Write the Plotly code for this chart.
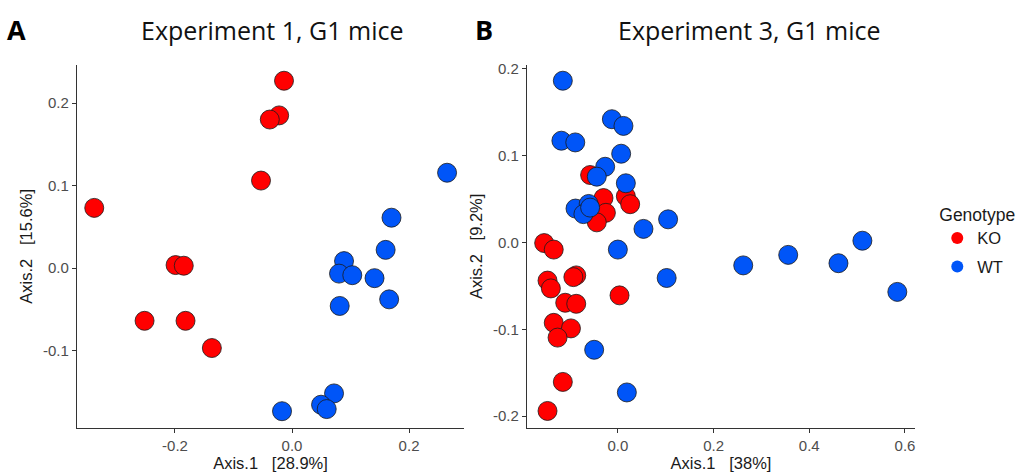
import plotly.graph_objects as go

# Experiment 1 (panel A)
a_ko_x = [-0.338, -0.0137, -0.022, -0.038, -0.053, -0.199, -0.185, -0.252, -0.182, -0.137]
a_ko_y = [0.0729, 0.227, 0.185, 0.180, 0.106, 0.0036, 0.0028, -0.064, -0.064, -0.097]
a_wt_x = [0.265, 0.170, 0.160, 0.0889, 0.0803, 0.103, 0.141, 0.166, 0.0815, 0.0718, 0.0496, 0.0593, -0.0171]
a_wt_y = [0.1155, 0.061, 0.022, 0.0084, -0.0068, -0.0087, -0.0123, -0.038, -0.046, -0.152, -0.1657, -0.171, -0.1736]

# Experiment 3 (panel B)
b_ko_x = [-0.058, -0.030, 0.0167, 0.0257, -0.025, -0.044, -0.154, -0.134, -0.147, -0.140,
          -0.087, -0.093, -0.110, -0.087, 0.0035, -0.134, -0.098, -0.126, -0.115, -0.147]
b_ko_y = [0.0775, 0.051, 0.053, 0.0439, 0.034, 0.023, -0.0008, -0.0083, -0.044, -0.053,
          -0.038, -0.040, -0.0695, -0.0707, -0.061, -0.0926, -0.099, -0.1096, -0.1606, -0.194]
b_wt_x = [-0.115, -0.0125, 0.0117, -0.118, -0.089, 0.0069, -0.0265, -0.044, 0.0167, -0.0885,
          -0.061, -0.072, -0.058, 0.0535, 0.105, 0.511, 0.0, 0.102, 0.262, 0.356, 0.461, 0.584,
          -0.0495, 0.0188]
b_wt_y = [0.186, 0.1417, 0.134, 0.117, 0.115, 0.102, 0.087, 0.0756, 0.068, 0.0389,
          0.0442, 0.0325, 0.040, 0.0155, 0.0265, 0.0019, -0.0083, -0.041, -0.0265, -0.0144, -0.024, -0.057,
          -0.1236, -0.1727]

genotypes = ["KO", "WT"]
KO_COLOR = "#FF0000"
WT_COLOR = "#0055F8"

def marker(color):
    return dict(size=19, color=color, line=dict(color="#1a1a1a", width=0.8))

fig = go.Figure()
fig.add_trace(go.Scatter(x=a_ko_x, y=a_ko_y, mode="markers", name="KO", showlegend=False,
                         marker=marker(KO_COLOR), xaxis="x", yaxis="y"))
fig.add_trace(go.Scatter(x=a_wt_x, y=a_wt_y, mode="markers", name="WT", showlegend=False,
                         marker=marker(WT_COLOR), xaxis="x", yaxis="y"))
fig.add_trace(go.Scatter(x=b_ko_x, y=b_ko_y, mode="markers", name="KO", showlegend=False,
                         marker=marker(KO_COLOR), xaxis="x2", yaxis="y2"))
fig.add_trace(go.Scatter(x=b_wt_x, y=b_wt_y, mode="markers", name="WT", showlegend=False,
                         marker=marker(WT_COLOR), xaxis="x2", yaxis="y2"))
# legend entries (filled keys without outline, like ggplot)
for g, c in zip(genotypes, [KO_COLOR, WT_COLOR]):
    fig.add_trace(go.Scatter(x=[None], y=[None], mode="markers", name=g, legendgroup=g,
                             marker=dict(size=18, color=c, line=dict(width=0)),
                             xaxis="x2", yaxis="y2"))

tickfont = dict(family="Liberation Sans, Arial", size=15, color="#4D4D4D")
labfont = dict(family="Liberation Sans, Arial", size=16.5, color="#1a1a1a")
axcommon = dict(showgrid=False, zeroline=False, showline=True, linecolor="#333333", linewidth=1.3,
                ticks="outside", ticklen=4, tickcolor="#333333", tickfont=tickfont)

fig.update_layout(
    width=1021, height=472, margin=dict(l=0, r=0, t=0, b=0),
    plot_bgcolor="white", paper_bgcolor="white",
    xaxis=dict(domain=[0.0754, 0.4545], range=[-0.3675, 0.294], tickvals=[-0.2, 0.0, 0.2],
               ticktext=["-0.2", "0.0", "0.2"], anchor="y",
               title=dict(text="Axis.1   [28.9%]", font=labfont, standoff=7), **axcommon),
    yaxis=dict(domain=[0.0911, 0.8708], range=[-0.1935, 0.246], tickvals=[-0.1, 0.0, 0.1, 0.2],
               ticktext=["-0.1", "0.0", "0.1", "0.2"], anchor="x",
               title=dict(text="Axis.2   [15.6%]", font=labfont, standoff=6), **axcommon),
    xaxis2=dict(domain=[0.5161, 0.8962], range=[-0.190, 0.621], tickvals=[0.0, 0.2, 0.4, 0.6],
                ticktext=["0.0", "0.2", "0.4", "0.6"], anchor="y2",
                title=dict(text="Axis.1   [38%]", font=labfont, standoff=7), **axcommon),
    yaxis2=dict(domain=[0.0911, 0.8708], range=[-0.2132, 0.204], tickvals=[-0.2, -0.1, 0.0, 0.1, 0.2],
                ticktext=["-0.2", "-0.1", "0.0", "0.1", "0.2"], anchor="x2",
                title=dict(text="Axis.2   [9.2%]", font=labfont, standoff=6), **axcommon),
    legend=dict(x=0.918, y=0.585, xanchor="left", yanchor="top",
                title=dict(text="Genotype", font=dict(family="Liberation Sans, Arial", size=17.5, color="#1a1a1a")),
                font=dict(family="Liberation Sans, Arial", size=16.5, color="#1a1a1a"),
                itemsizing="constant", tracegroupgap=4, bgcolor="rgba(0,0,0,0)"),
    showlegend=True,
)

titlefont = dict(family="Open Sans, Noto Sans", size=25, color="#111111")
fig.add_annotation(text="Experiment 1, G1 mice", x=272/1021, y=1-25/472, xref="paper", yref="paper",
                   showarrow=False, font=titlefont, xanchor="center", yanchor="middle")
fig.add_annotation(text="Experiment 3, G1 mice", x=749/1021, y=1-25/472, xref="paper", yref="paper",
                   showarrow=False, font=titlefont, xanchor="center", yanchor="middle")
fig.add_annotation(text="<b>A</b>", x=5/1021, y=1-25/472, xref="paper", yref="paper",
                   showarrow=False, font=dict(family="Open Sans, Noto Sans", size=27, color="#000000"),
                   xanchor="left", yanchor="middle")
fig.add_annotation(text="<b>B</b>", x=473/1021, y=1-25/472, xref="paper", yref="paper",
                   showarrow=False, font=dict(family="Open Sans, Noto Sans", size=27, color="#000000"),
                   xanchor="left", yanchor="middle")

fig.write_html("out.html")
